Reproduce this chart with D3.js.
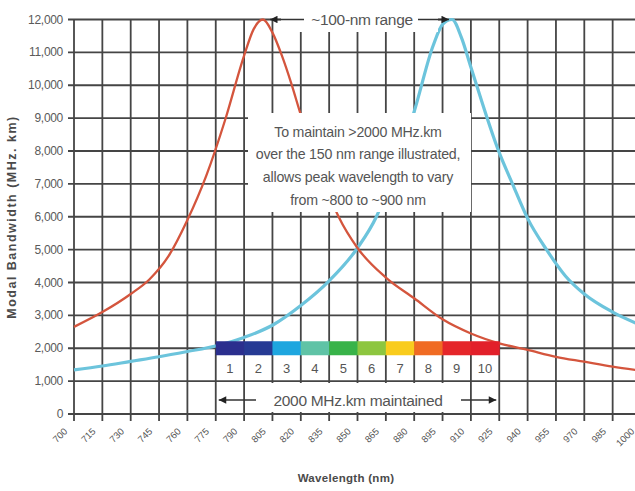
<!DOCTYPE html>

<head>
    <meta charset="utf-8">
    <script src="https://d3js.org/d3.v7.min.js"></script>
    <style>
        body {
            margin: 0;
            background-color: #fff;
        }

        svg {
            display: block;
            font-family: "Liberation Sans", Arial, sans-serif;
        }

        .grid line {
            stroke: #454545;
            stroke-width: 1.8px;
        }

        .y-label {
            fill: #5a5a5a;
            font-size: 12px;
            letter-spacing: -0.3px;
            text-anchor: end;
        }

        .x-label {
            fill: #555;
            font-size: 9.5px;
            text-anchor: end;
        }

        .axis-title {
            fill: #4a4a4a;
            font-weight: bold;
            text-anchor: middle;
        }

        .note {
            fill: #555;
            font-size: 14.2px;
            letter-spacing: -0.2px;
            text-anchor: middle;
        }

        .note-big {
            font-size: 15.5px;
            letter-spacing: -0.3px;
        }

        .band-label {
            fill: #555;
            font-size: 13px;
            text-anchor: middle;
        }

        .arrow {
            stroke: #333;
            stroke-width: 1.5px;
        }
    </style>
</head>

<body>
    <script>
        var width = 635,
            height = 491;

        // axis ticks
        var wavelengthTicks = [700, 715, 730, 745, 760, 775, 790, 805, 820, 835, 850,
            865, 880, 895, 910, 925, 940, 955, 970, 985, 1000];
        var bandwidthTicks = [0, 1000, 2000, 3000, 4000, 5000, 6000, 7000, 8000,
            9000, 10000, 11000, 12000];

        // red curve (peak ~800 nm)
        var redWavelength = [700, 715, 730, 740, 750, 760, 770, 780, 790, 795, 800,
            805, 810, 815, 820, 830, 840, 850, 865, 880, 895, 910, 925, 940, 955, 970, 985, 1000];
        var redBandwidth = [2650, 3100, 3650, 4100, 4800, 5900, 7250, 8950, 10900, 11700, 12000,
            11600, 10900, 10050, 9100, 7400, 6000, 5050, 4150, 3520, 2880, 2450, 2150, 1950, 1740, 1590, 1440, 1320];

        // blue curve (peak ~900 nm)
        var blueWavelength = [700, 715, 730, 745, 760, 775, 790, 805, 820, 835, 850, 860,
            870, 880, 890, 895, 900, 905, 910, 925, 932, 940, 950, 960, 970, 985, 1000];
        var blueBandwidth = [1340, 1460, 1600, 1740, 1900, 2070, 2330, 2700, 3300, 4050, 5050, 6000,
            7500, 9200, 11200, 11850, 12000, 11450, 10550, 7950, 7000, 5950, 5000, 4200, 3650, 3100, 2700];

        // colour band
        var bandEdges = [775, 790, 805, 820, 835, 850, 865, 880, 895, 910, 925];
        var bandLabels = ["1", "2", "3", "4", "5", "6", "7", "8", "9", "10"];
        var bandColors = ["#2b2f8e", "#263a94", "#1ea6df", "#5fc3a6", "#38b349",
            "#8dc63f", "#f9cc1d", "#f06b23", "#e5262a", "#e2202a"];

        var noteLines = ["To maintain >2000 MHz.km", "over the 150 nm range illustrated,",
            "allows peak wavelength to vary", "from ~800 to ~900 nm"];

        var x = d3.scaleLinear()
            .domain([700, 1000])
            .range([74, 641]);

        var y = d3.scaleLinear()
            .domain([0, 12000])
            .range([414, 19.5]);

        var svg = d3.select("body").append("svg")
            .attr("width", width)
            .attr("height", height);

        var defs = svg.append("defs");
        defs.append("marker")
            .attr("id", "head")
            .attr("viewBox", "0 -5 10 10")
            .attr("refX", 10)
            .attr("refY", 0)
            .attr("markerWidth", 6)
            .attr("markerHeight", 5)
            .attr("markerUnits", "strokeWidth")
            .attr("orient", "auto")
            .append("path")
            .attr("d", "M0,-5L10,0L0,5Z")
            .attr("fill", "#222");

        // grid
        var grid = svg.append("g").attr("class", "grid");

        grid.selectAll(".v")
            .data(wavelengthTicks)
            .enter().append("line")
            .attr("class", "v")
            .attr("x1", function(d) { return x(d); })
            .attr("x2", function(d) { return x(d); })
            .attr("y1", y(12000))
            .attr("y2", y(0) + 7);

        grid.selectAll(".h")
            .data(bandwidthTicks)
            .enter().append("line")
            .attr("class", "h")
            .attr("x1", x(700) - 6)
            .attr("x2", width)
            .attr("y1", function(d) { return y(d); })
            .attr("y2", function(d) { return y(d); });

        svg.selectAll(".y-label")
            .data(bandwidthTicks)
            .enter().append("text")
            .attr("class", "y-label")
            .attr("x", x(700) - 11)
            .attr("y", function(d) { return y(d) + 4; })
            .text(function(d) { return d3.format(",")(d); });

        svg.selectAll(".x-label")
            .data(wavelengthTicks)
            .enter().append("text")
            .attr("class", "x-label")
            .attr("transform", function(d) {
                return "translate(" + (x(d) - 6) + "," + (y(0) + 18) + ") rotate(-45)";
            })
            .text(function(d) { return d; });

        svg.append("text")
            .attr("class", "axis-title")
            .attr("x", 346)
            .attr("y", 482)
            .style("font-size", "11.5px")
            .style("letter-spacing", "0.3px")
            .text("Wavelength (nm)");

        svg.append("text")
            .attr("class", "axis-title")
            .attr("transform", "translate(16,217) rotate(-90)")
            .style("font-size", "12.5px")
            .style("letter-spacing", "1.5px")
            .text("Modal Bandwidth (MHz. km)");

        // curves
        var line = d3.line()
            .x(function(d) { return x(d[0]); })
            .y(function(d) { return y(d[1]); })
            .curve(d3.curveMonotoneX);

        svg.append("path")
            .datum(d3.zip(blueWavelength, blueBandwidth))
            .attr("d", line)
            .attr("fill", "none")
            .attr("stroke", "#6cc4dc")
            .attr("stroke-width", 3.2);

        svg.append("path")
            .datum(d3.zip(redWavelength, redBandwidth))
            .attr("d", line)
            .attr("fill", "none")
            .attr("stroke", "#d4553d")
            .attr("stroke-width", 2.3);

        // central note
        svg.append("rect")
            .attr("x", 248)
            .attr("y", 113)
            .attr("width", 223)
            .attr("height", 99)
            .attr("fill", "#fff");

        svg.selectAll(".note-line")
            .data(noteLines)
            .enter().append("text")
            .attr("class", "note note-line")
            .attr("x", 358)
            .attr("y", function(d, i) { return 136.5 + i * 22.8; })
            .text(function(d) { return d; });

        // ~100-nm range label
        svg.append("rect")
            .attr("x", 281)
            .attr("y", 2)
            .attr("width", 157)
            .attr("height", 30)
            .attr("fill", "#fff");

        svg.append("line")
            .attr("class", "arrow")
            .attr("x1", 304).attr("y1", y(12000))
            .attr("x2", x(800) + 7).attr("y2", y(12000))
            .attr("marker-end", "url(#head)");

        svg.append("line")
            .attr("class", "arrow")
            .attr("x1", 418).attr("y1", y(12000))
            .attr("x2", x(900) - 3).attr("y2", y(12000))
            .attr("marker-end", "url(#head)");

        svg.append("text")
            .attr("class", "note note-big")
            .attr("x", 362)
            .attr("y", y(12000) + 5.5)
            .text("~100-nm range");

        // colour band
        var band = svg.append("g");

        band.selectAll("rect")
            .data(bandColors)
            .enter().append("rect")
            .attr("x", function(d, i) { return x(bandEdges[i]); })
            .attr("y", y(2000) - 7)
            .attr("width", function(d, i) { return x(bandEdges[i + 1]) - x(bandEdges[i]) + 0.5; })
            .attr("height", 14)
            .attr("fill", function(d) { return d; });

        band.selectAll("text")
            .data(bandLabels)
            .enter().append("text")
            .attr("class", "band-label")
            .attr("x", function(d, i) { return (x(bandEdges[i]) + x(bandEdges[i + 1])) / 2; })
            .attr("y", y(2000) + 25)
            .text(function(d) { return d; });

        // 2000 MHz.km maintained
        svg.append("rect")
            .attr("x", 257)
            .attr("y", 383)
            .attr("width", 210)
            .attr("height", 29)
            .attr("fill", "#fff");

        svg.append("line")
            .attr("class", "arrow")
            .attr("x1", 256).attr("y1", 400)
            .attr("x2", x(775) + 3).attr("y2", 400)
            .attr("marker-end", "url(#head)");

        svg.append("line")
            .attr("class", "arrow")
            .attr("x1", 461).attr("y1", 400)
            .attr("x2", x(925) - 3).attr("y2", 400)
            .attr("marker-end", "url(#head)");

        svg.append("text")
            .attr("class", "note note-big")
            .attr("x", 358)
            .attr("y", 405.5)
            .text("2000 MHz.km maintained");
    </script>
</body>
